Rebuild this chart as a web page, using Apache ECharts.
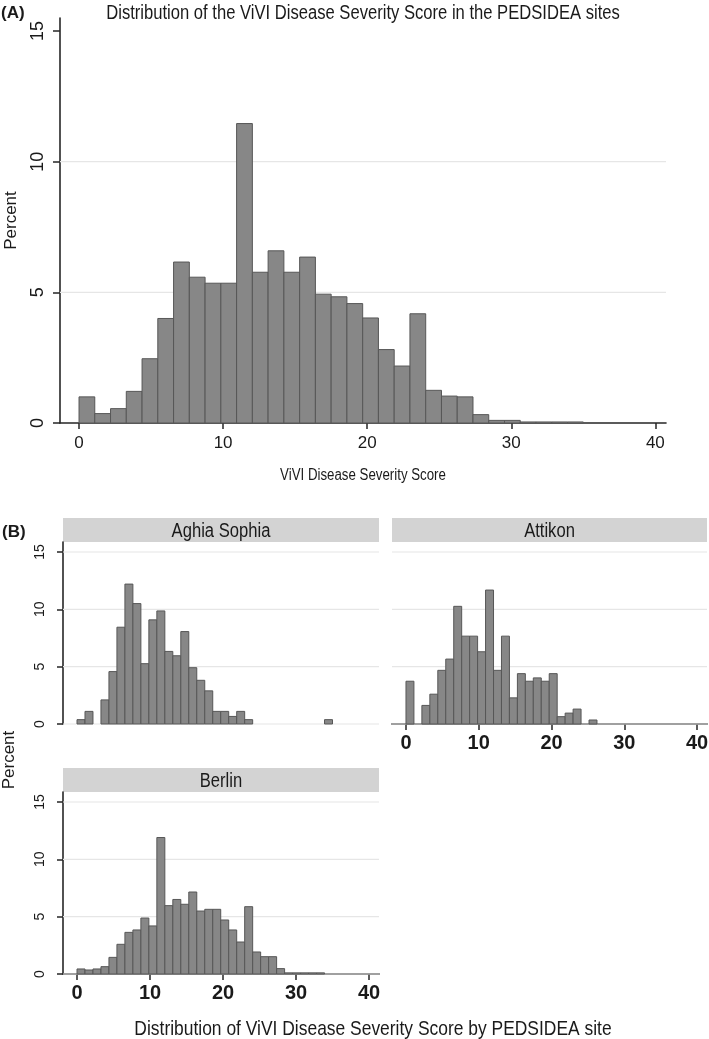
<!DOCTYPE html>
<html><head><meta charset="utf-8">
<script src="https://cdn.jsdelivr.net/npm/echarts@6/dist/echarts.min.js"></script>
<style>html,body{margin:0;padding:0;background:#fff}#c{width:709px;height:1039px}</style>
</head><body><div id="c"></div>
<script>
// ---------------- data ----------------
const binStart = 0;
const binWidth = 35 / 32;            // 32 bins from 0 to 35
const allSites   = [1.0,0.36,0.55,1.21,2.46,4.0,6.16,5.58,5.35,5.35,11.46,5.77,6.59,5.77,6.35,4.93,4.83,4.57,4.02,2.81,2.18,4.18,1.25,1.03,1.0,0.32,0.1,0.1,0.04,0.04,0.04,0.04];
const aghiaSophia = [0.38,1.1,0,2.1,4.57,8.44,12.2,10.5,5.26,9.08,9.86,6.33,5.95,8.06,4.91,3.81,2.89,1.1,1.1,0.66,1.1,0.38,0,0,0,0,0,0,0,0,0,0.38];
const attikon     = [3.73,0,1.62,2.6,4.68,5.66,10.26,7.66,7.66,6.3,11.68,4.68,7.66,2.28,4.39,3.73,4.02,3.73,4.39,0.64,0.95,1.3,0,0.35,0,0,0,0,0,0,0,0];
const berlin      = [0.44,0.35,0.44,0.64,1.45,2.59,3.63,3.84,4.88,4.19,11.9,5.96,6.5,6.08,7.15,5.49,5.64,5.64,4.71,3.84,2.79,5.87,1.92,1.51,1.51,0.47,0.1,0.1,0.1,0.1,0.1,0];
const xTicks = [0, 10, 20, 30, 40];
const yTicks = [0, 5, 10, 15];
const gridLinesA = [5, 10];
const gridLinesB = [0, 5, 10, 15];
const siteNames = ['Aghia Sophia', 'Attikon', 'Berlin'];
const titleA = 'Distribution of the ViVI Disease Severity Score in the PEDSIDEA sites';
const xTitleA = 'ViVI Disease Severity Score';
const titleB = 'Distribution of ViVI Disease Severity Score by PEDSIDEA site';
const yName = 'Percent';

// ---------------- styles ----------------
const SANS = '"Liberation Sans", Arial, Helvetica, sans-serif';
const INK = '#1a1a1a';
const AXIS = '#262626';
const BAR_FILL = '#878787';
const BAR_EDGE = '#575757';
const GRID_CLR = '#e6e6e6';
const STRIP = '#d3d3d3';
const CONDENSE = 0.83;   // the figure's lettering is horizontally condensed

function barSeries(values, gi) {
  return {
    type: 'custom', xAxisIndex: gi, yAxisIndex: gi, z: 3, silent: true,
    data: values.map((v, i) => [binStart + i * binWidth, binStart + (i + 1) * binWidth, v]),
    encode: { x: [0, 1], y: 2 },
    renderItem: (params, api) => {
      const h = api.value(2);
      if (!(h > 0)) return { type: 'group', children: [] };
      const p0 = api.coord([api.value(0), h]);
      const p1 = api.coord([api.value(1), 0]);
      return { type: 'rect',
        shape: { x: p0[0], y: p0[1], width: p1[0] - p0[0], height: p1[1] - p0[1] },
        style: { fill: BAR_FILL, stroke: BAR_EDGE, lineWidth: 1 } };
    }
  };
}
function gridSeries(vals, gi) {
  return {
    type: 'custom', xAxisIndex: gi, yAxisIndex: gi, z: 1, silent: true,
    data: vals.map(v => [0, v]), encode: { x: 0, y: 1 },
    renderItem: (params, api) => {
      const cs = params.coordSys;
      const y = api.coord([0, api.value(1)])[1];
      return { type: 'line', shape: { x1: cs.x, y1: y, x2: cs.x + cs.width, y2: y },
        style: { stroke: GRID_CLR, lineWidth: 1.2 } };
    }
  };
}
function xAxisDef(gi, show, min, max, lab) {
  return {
    gridIndex: gi, type: 'value', min: min, max: max,
    axisLine: { show: show, onZero: false, lineStyle: { color: AXIS, width: 1.6 } },
    axisTick: { show: show, length: 6, customValues: xTicks, lineStyle: { color: AXIS, width: 1.5 } },
    axisLabel: Object.assign({ show: show, customValues: xTicks, color: INK, fontFamily: SANS }, lab),
    splitLine: { show: false }
  };
}
function yAxisDef(gi, show, max, lab, tickLen) {
  return {
    gridIndex: gi, type: 'value', min: 0, max: max,
    axisLine: { show: show, onZero: false, lineStyle: { color: AXIS, width: 1.6 } },
    axisTick: { show: show, length: tickLen, customValues: yTicks, lineStyle: { color: AXIS, width: 1.5 } },
    axisLabel: Object.assign({ show: show, customValues: yTicks, rotate: 90, color: INK, fontFamily: SANS }, lab),
    splitLine: { show: false }
  };
}
function label(text, x, y, size, opts) {
  opts = opts || {};
  return {
    type: 'text', x: x, y: y, rotation: opts.rotation || 0,
    scaleX: opts.scaleX == null ? CONDENSE : opts.scaleX,
    style: { text: text, fontSize: size, fontWeight: opts.bold ? 'bold' : 'normal', fontFamily: SANS, fill: INK,
      textAlign: opts.align || 'center', textVerticalAlign: 'middle', align: opts.align || 'center', verticalAlign: 'middle' }
  };
}

// panel A layout
const aLeft = 60, aTop = 18, aW = 606, aH = 405;
// panel B layout
const bLeft = 63, bW = 316, bH = 182, bRightLeft = 392, bTop1 = 542, bTop2 = 792, stripH = 24;
const bXmin = -1.92, bXmax = 41.37, bYmax = 15.87;

const yA = yAxisDef(0, true, 15.5, { fontSize: 18, margin: 13 }, 7);
yA.name = yName; yA.nameLocation = 'middle'; yA.nameRotate = 90; yA.nameGap = 40;
yA.nameTextStyle = { fontSize: 17, fontFamily: SANS, color: INK };

const labB = { fontSize: 20, fontWeight: 'bold', margin: 9 };
const ylabB = { fontSize: 14, margin: 16 };

const option = {
  animation: false,
  backgroundColor: '#fff',
  textStyle: { fontFamily: SANS },
  grid: [
    { left: aLeft, top: aTop, width: aW, height: aH, outerBoundsMode: 'none' },
    { left: bLeft, top: bTop1, width: bW, height: bH, outerBoundsMode: 'none' },
    { left: bRightLeft, top: bTop1, width: bW - 1, height: bH, outerBoundsMode: 'none' },
    { left: bLeft, top: bTop2, width: bW, height: bH, outerBoundsMode: 'none' }
  ],
  xAxis: [
    xAxisDef(0, true, -1.32, 40.74, { fontSize: 17, margin: 12 }),
    xAxisDef(1, false, bXmin, bXmax, labB),
    xAxisDef(2, true, bXmin, bXmax, labB),
    xAxisDef(3, true, bXmin, bXmax, labB)
  ],
  yAxis: [
    yA,
    yAxisDef(1, true, bYmax, ylabB, 6),
    yAxisDef(2, false, bYmax, ylabB, 6),
    yAxisDef(3, true, bYmax, ylabB, 6)
  ],
  series: [
    gridSeries(gridLinesA, 0), barSeries(allSites, 0),
    gridSeries(gridLinesB, 1), barSeries(aghiaSophia, 1),
    gridSeries(gridLinesB, 2), barSeries(attikon, 2),
    gridSeries(gridLinesB, 3), barSeries(berlin, 3)
  ],
  graphic: [
    label(titleA, aLeft + aW / 2, 13, 20),
    label('(A)', 1, 13, 17, { bold: true, align: 'left', scaleX: 1 }),
    label(xTitleA, aLeft + aW / 2, 476, 16),
    label('(B)', 2, 532, 17, { bold: true, align: 'left', scaleX: 1 }),
    { type: 'rect', shape: { x: bLeft, y: bTop1 - stripH, width: bW, height: stripH }, style: { fill: STRIP } },
    { type: 'rect', shape: { x: bRightLeft, y: bTop1 - stripH, width: bW - 1, height: stripH }, style: { fill: STRIP } },
    { type: 'rect', shape: { x: bLeft, y: bTop2 - stripH, width: bW, height: stripH }, style: { fill: STRIP } },
    label(siteNames[0], bLeft + bW / 2, bTop1 - stripH / 2 + 1, 20),
    label(siteNames[1], bRightLeft + (bW - 1) / 2, bTop1 - stripH / 2 + 1, 20),
    label(siteNames[2], bLeft + bW / 2, bTop2 - stripH / 2 + 1, 20),
    label(yName, 9, 760, 17, { rotation: Math.PI / 2, scaleX: 1 }),
    label(titleB, 373, 1029, 21)
  ]
};
const chart = echarts.init(document.getElementById('c'), null, { renderer: 'canvas', width: 709, height: 1039 });
chart.setOption(option);
</script></body></html>
